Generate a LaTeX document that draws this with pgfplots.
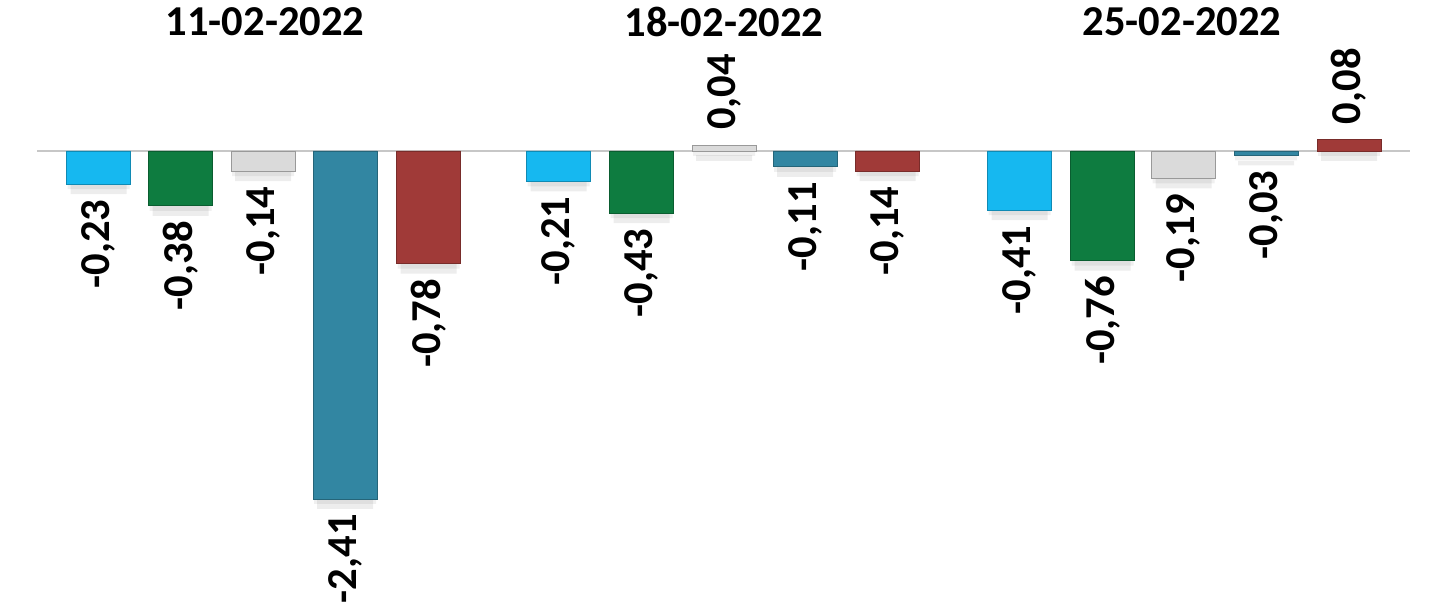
\documentclass[border=0pt]{standalone}
\usepackage{graphicx}
\usepackage{pgfplots}
\usepackage{pgfplotstable}
\pgfplotsset{compat=1.18}
\usepackage{fontspec}
\setmainfont{Carlito}
\definecolor{c1}{RGB}{22,184,240}
\definecolor{c2}{RGB}{14,124,64}
\definecolor{c3}{RGB}{218,218,218}
\definecolor{c4}{RGB}{50,134,162}
\definecolor{c5}{RGB}{160,58,56}
\pgfplotstableread{
x y
98.5 -0.23
558.5 -0.21
1019.5 -0.41
}\sA
\pgfplotstableread{
x y
180.5 -0.38
641.5 -0.43
1102.5 -0.76
}\sB
\pgfplotstableread{
x y
263 -0.14
724 0.04
1183.5 -0.19
}\sC
\pgfplotstableread{
x y
345 -2.41
805 -0.11
1266 -0.03
}\sD
\pgfplotstableread{
x y
428.5 -0.78
887.5 -0.14
1349 0.08
}\sE
\begin{document}
\begin{tikzpicture}
\begin{axis}[
  x=0.5pt, y=72.2pt,
  xmin=0, xmax=1435, ymin=-3.1994, ymax=1.0457,
  hide axis, clip=false,
  ybar, bar width=64, bar shift=0pt,
  point meta=y,
  /pgf/number format/.cd, use comma, fixed, fixed zerofill, precision=2, assume math mode=true, /pgfplots/.cd,
  lbl/.style={nodes near coords={\rotatebox{90}{\pgfmathprintnumber{\pgfplotspointmeta}}},
    nodes near coords align=vertical,
    every node near coord/.append style={font=\fontsize{21.3}{25}\selectfont\bfseries, text=black, inner sep=7.5pt}},
  shdA/.style={fill=black, draw=none, opacity=0.06, yshift=-2.5pt, bar width=62},
  shdB/.style={fill=black, draw=none, opacity=0.07, yshift=-5pt, bar width=56},
]
\draw[color=black!22, line width=1pt] (axis cs:37,0) -- (axis cs:1410,0);
\addplot[shdA] table {\sA};
\addplot[shdA] table {\sB};
\addplot[shdA] table {\sC};
\addplot[shdA] table {\sD};
\addplot[shdA] table {\sE};
\addplot[shdB] table {\sA};
\addplot[shdB] table {\sB};
\addplot[shdB] table {\sC};
\addplot[shdB] table {\sD};
\addplot[shdB] table {\sE};
\addplot[lbl, fill=c1, draw=c1!75!black] table {\sA};
\addplot[lbl, fill=c2, draw=c2!75!black] table {\sB};
\addplot[lbl, fill=c3, draw=black!40] table {\sC};
\addplot[lbl, fill=c4, draw=c4!75!black] table {\sD};
\addplot[lbl, fill=c5, draw=c5!75!black] table {\sE};
\node[font=\fontsize{21.3}{25}\selectfont\bfseries] at (axis cs:265,0.893) {11-02-2022};
\node[font=\fontsize{21.3}{25}\selectfont\bfseries] at (axis cs:724,0.893) {18-02-2022};
\node[font=\fontsize{21.3}{25}\selectfont\bfseries] at (axis cs:1182,0.893) {25-02-2022};
\end{axis}
\pgfresetboundingbox
\path[use as bounding box] (current axis.south west) rectangle (current axis.north east);
\end{tikzpicture}
\end{document}
